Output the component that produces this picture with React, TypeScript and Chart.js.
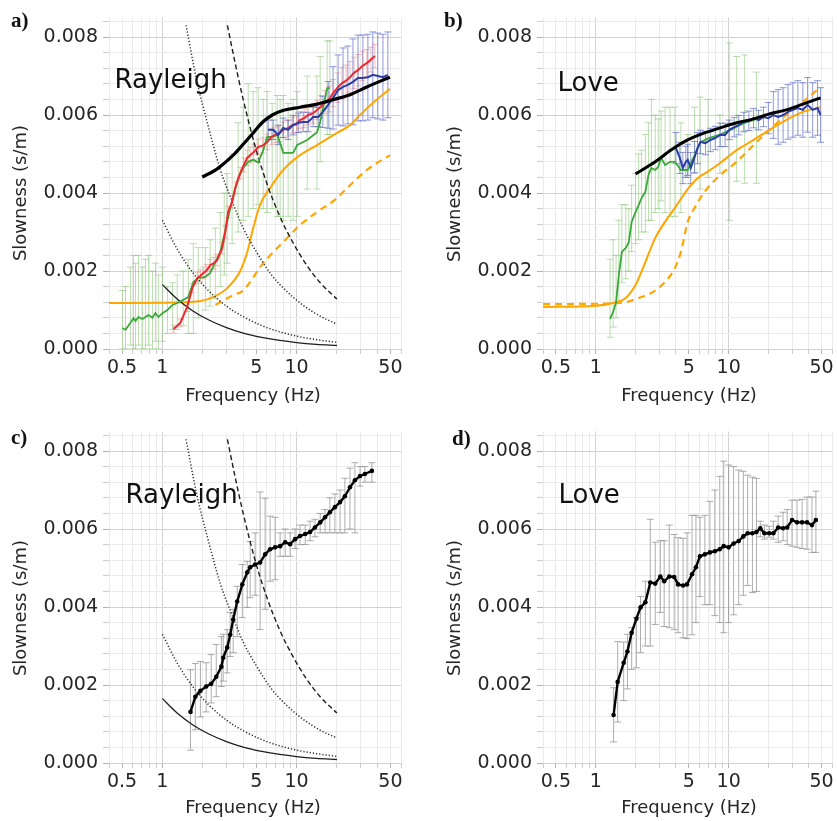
import React, { useEffect, useRef } from "react";
import { Chart, registerables } from "chart.js";
Chart.register(...registerables);

const FONT = "'DejaVu Sans', sans-serif";
const TEXT = "#262626";
const GRID_MAJOR = "#d2d2d2";
const GRID_MINOR = "#ebebeb";
const TICK_MAJOR = "#b4b4b4";
const TICK_MINOR = "#cdcdcd";

// ---- axes ----
const xGridValues = [0.4, 0.5, 0.6, 0.7, 0.8, 0.9, 1, 2, 3, 4, 5, 6, 7, 8, 9, 10, 20, 30, 40, 50, 60];
const xTickLabels = [0.5, 1, 5, 10, 50];
const xMajorValues = [1, 10];
const yGridValues = [0, 0.0004, 0.0008, 0.0012, 0.0016, 0.002, 0.0024, 0.0028, 0.0032, 0.0036, 0.004, 0.0044, 0.0048, 0.0052, 0.0056, 0.006, 0.0064, 0.0068, 0.0072, 0.0076, 0.008, 0.0084];
const yTickLabels = [0, 0.002, 0.004, 0.006, 0.008];

// ---- wavelength limit curves (panels a, c) ----
const limSolidFreq = [1, 1.3, 1.7, 2.2, 3, 4, 5.5, 7.5, 10, 14, 20];
const limSolidSlow = [0.00165, 0.00127, 0.00097, 0.00075, 0.00055, 0.00041, 0.0003, 0.00022, 0.000165, 0.00012, 0.00009];
const limDot1Freq = [1, 1.3, 1.7, 2.2, 3, 4, 5.5, 7.5, 10, 14, 20];
const limDot1Slow = [0.0033, 0.00254, 0.00194, 0.0015, 0.0011, 0.00083, 0.0006, 0.00044, 0.00033, 0.00024, 0.00017];
const limDot2Freq = [1.5, 1.8, 2.2, 2.7, 3.3, 4, 5, 6.5, 8.5, 11, 15, 20];
const limDot2Slow = [0.0083, 0.0069, 0.0057, 0.0046, 0.0038, 0.0031, 0.0025, 0.0019, 0.00147, 0.00114, 0.00084, 0.00064];
const limDashFreq = [3.05, 3.5, 4, 5, 6, 7.5, 9.5, 12, 15, 20];
const limDashSlow = [0.0083, 0.0073, 0.0064, 0.0051, 0.00425, 0.0034, 0.0027, 0.00213, 0.0017, 0.00128];

// ---- panel a (Rayleigh) ----
const aGreenFreq = [0.504, 0.531, 0.578, 0.609, 0.63, 0.663, 0.71, 0.748, 0.787, 0.843, 0.887, 0.934, 1.0, 1.09, 1.19, 1.29, 1.43, 1.56, 1.7, 1.85, 2.09, 2.27, 2.48, 2.7, 2.89, 3.04, 3.31, 3.67, 4.0, 4.36, 4.75, 5.17, 5.64, 6.04, 6.58, 7.16, 7.54, 7.94, 8.65, 9.42, 10.1, 12.0, 14.2, 15.0, 16.9, 17.7];
const aGreenSlow = [0.00054, 0.00049, 0.00067, 0.00079, 0.00072, 0.00082, 0.00077, 0.00082, 0.00087, 0.0008, 0.00092, 0.00082, 0.00092, 0.001, 0.00113, 0.00118, 0.00126, 0.00133, 0.00172, 0.00182, 0.00185, 0.00195, 0.00223, 0.00249, 0.00292, 0.00326, 0.00382, 0.00438, 0.00464, 0.0048, 0.00485, 0.00478, 0.0051, 0.00544, 0.00544, 0.00549, 0.00528, 0.00503, 0.00503, 0.00503, 0.00523, 0.00536, 0.00556, 0.00582, 0.00669, 0.00669];
const aGreenLo = [0, 0, 0.0001, 0, 0, 0.0001, 0, 0, 0.0001, 0, 0.0002, 0, 0.0002, 0.0004, 0.0005, 0.0005, 0.0006, 0.0004, 0.0004, 0.0008, 0.001, 0.0011, 0.0013, 0.0016, 0.0019, 0.0022, 0.0027, 0.003, 0.0033, 0.0034, 0.0036, 0.0037, 0.0036, 0.0035, 0.0036, 0.0034, 0.0034, 0.0033, 0.0034, 0.0033, 0.0034, 0.0041, 0.0041, 0.0048, 0.0055, 0.0055];
const aGreenHi = [0.0015, 0.0016, 0.0021, 0.0024, 0.0022, 0.0024, 0.0021, 0.0023, 0.0024, 0.002, 0.0022, 0.0019, 0.0021, 0.0016, 0.0017, 0.0019, 0.002, 0.0023, 0.0027, 0.0026, 0.0026, 0.0028, 0.0031, 0.0035, 0.004, 0.0045, 0.005, 0.0058, 0.0062, 0.0068, 0.0066, 0.0067, 0.0064, 0.0066, 0.0063, 0.0065, 0.0064, 0.0065, 0.0063, 0.0064, 0.0066, 0.007, 0.007, 0.0075, 0.0079, 0.0079];

const aRedFreq = [1.21, 1.36, 1.53, 1.67, 1.82, 1.92, 2.02, 2.14, 2.27, 2.42, 2.56, 2.79, 2.94, 3.09, 3.31, 3.49, 3.8, 4.05, 4.29, 4.51, 4.8, 5.17, 5.6, 6.04, 6.5, 6.92, 7.4, 7.94, 8.6, 9.26, 10.0, 10.6, 11.4, 12.2, 13.2, 14.2, 15.2, 16.3, 17.5, 18.7, 20.2, 21.8, 23.4, 25.0, 26.8, 28.7, 31.0, 33.4, 35.8, 38.3];
const aRedSlow = [0.00051, 0.00067, 0.00108, 0.00156, 0.00182, 0.00188, 0.00195, 0.00202, 0.00215, 0.0022, 0.00228, 0.00259, 0.003, 0.00351, 0.00377, 0.00413, 0.00451, 0.00472, 0.0049, 0.00497, 0.00505, 0.00518, 0.00522, 0.00531, 0.00544, 0.00549, 0.00552, 0.00562, 0.00566, 0.00574, 0.00576, 0.00587, 0.00592, 0.006, 0.00604, 0.00613, 0.00622, 0.00633, 0.00641, 0.00656, 0.0067, 0.00682, 0.00688, 0.00697, 0.00708, 0.00715, 0.00726, 0.00733, 0.00742, 0.00751];
const aRedErr = [0.0001, 0.0001, 0.00012, 0.00012, 0.00015, 0.00015, 0.00015, 0.00015, 0.00015, 0.00015, 0.00015, 0.00015, 0.00015, 0.00015, 0.00015, 0.00015, 0.00015, 0.00018, 0.0002, 0.0002, 0.0002, 0.0002, 0.0002, 0.0002, 0.0002, 0.0002, 0.0002, 0.0002, 0.0002, 0.0002, 0.00022, 0.00022, 0.00024, 0.00025, 0.00025, 0.00025, 0.00028, 0.0003, 0.00033, 0.00035, 0.00038, 0.0004, 0.0004, 0.0004, 0.0004, 0.0004, 0.00038, 0.00035, 0.00032, 0.0003];

const aBlueFreq = [6.14, 6.69, 7.29, 7.94, 8.65, 9.42, 10.3, 11.2, 12.2, 13.3, 14.5, 15.7, 17.2, 18.7, 20.4, 22.2, 24.1, 26.3, 28.7, 31.2, 34.0, 37.0, 40.3, 44.0, 47.9];
const aBlueSlow = [0.00562, 0.00562, 0.00549, 0.00567, 0.00562, 0.00574, 0.0058, 0.00582, 0.00582, 0.00595, 0.00595, 0.00608, 0.00626, 0.00644, 0.00664, 0.00672, 0.00677, 0.00685, 0.00695, 0.00695, 0.00697, 0.00703, 0.007, 0.00697, 0.00703];
const aBlueErr = [0.00025, 0.00025, 0.00025, 0.00025, 0.00025, 0.00025, 0.00025, 0.00025, 0.00025, 0.00025, 0.00025, 0.0004, 0.0006, 0.0008, 0.0009, 0.001, 0.001, 0.0011, 0.0011, 0.0011, 0.0011, 0.0011, 0.0011, 0.0011, 0.0011];

const aBlackFreq = [1.98, 2.56, 3.37, 4.0, 4.75, 5.6, 6.6, 8.0, 10.6, 14.2, 19, 25, 33.4, 49.6];
const aBlackSlow = [0.00441, 0.00462, 0.00497, 0.00525, 0.00554, 0.00582, 0.006, 0.00612, 0.0062, 0.00628, 0.0064, 0.00652, 0.00672, 0.00697];

const aOrangeFreq = [0.4, 1.2, 1.92, 2.39, 3.04, 3.8, 4.3, 4.75, 5.35, 6.35, 7.94, 10.6, 14.2, 20.0, 25.0, 29.7, 37.0, 49.6];
const aOrangeSlow = [0.00118, 0.00119, 0.00123, 0.00133, 0.00156, 0.002, 0.0025, 0.0031, 0.0037, 0.00413, 0.00459, 0.00497, 0.00523, 0.00554, 0.00574, 0.006, 0.00631, 0.00667];
const aOrangeDashFreq = [2.48, 3.37, 4.0, 4.51, 5.35, 6.35, 7.94, 10.6, 14.2, 20, 25, 33.4, 49.6];
const aOrangeDashSlow = [0.00113, 0.00138, 0.0015, 0.00172, 0.0021, 0.0024, 0.00274, 0.00318, 0.00351, 0.00387, 0.0042, 0.00459, 0.00497];

// ---- panel b (Love) ----
const bGreenFreq = [1.28, 1.35, 1.42, 1.49, 1.57, 1.68, 1.77, 1.86, 1.99, 2.1, 2.21, 2.36, 2.49, 2.62, 2.8, 2.95, 3.1, 3.32, 3.62, 3.94, 4.37, 4.92, 5.54, 6.1, 7.0, 8.6, 10.1, 11.5, 13.2, 16.2];
const bGreenSlow = [0.00077, 0.00095, 0.0012, 0.0019, 0.00249, 0.00259, 0.00274, 0.00326, 0.00351, 0.00369, 0.00387, 0.00403, 0.00446, 0.00464, 0.00459, 0.00467, 0.0049, 0.00472, 0.0048, 0.0048, 0.00459, 0.00459, 0.00497, 0.0053, 0.0054, 0.0055, 0.0056, 0.0057, 0.0058, 0.0059];
const bGreenLo = [0.0003, 0.00056, 0.0008, 0.0012, 0.0017, 0.0018, 0.002, 0.0025, 0.0027, 0.0028, 0.003, 0.003, 0.0033, 0.0033, 0.0035, 0.0036, 0.0038, 0.0035, 0.0034, 0.0034, 0.0035, 0.0044, 0.0045, 0.0041, 0.0044, 0.0045, 0.0033, 0.0043, 0.00425, 0.00425];
const bGreenHi = [0.0023, 0.0028, 0.0024, 0.0033, 0.0037, 0.0037, 0.0036, 0.0042, 0.0045, 0.005, 0.0051, 0.0055, 0.0058, 0.0064, 0.006, 0.0059, 0.0061, 0.0062, 0.0062, 0.0062, 0.0058, 0.0055, 0.0062, 0.00646, 0.0064, 0.006, 0.00785, 0.0075, 0.00754, 0.0071];

const bBlueFreq = [4.01, 4.29, 4.52, 4.76, 4.92, 5.18, 5.54, 5.83, 6.14, 6.69, 7.28, 7.93, 8.63, 9.4, 10.1, 11.0, 11.9, 13.0, 14.2, 15.4, 16.8, 18.3, 19.9, 21.7, 23.6, 25.7, 28.0, 30.5, 33.2, 36.2, 39.3, 42.9, 46.7, 49.2];
const bBlueSlow = [0.00515, 0.0049, 0.00464, 0.0048, 0.00485, 0.00464, 0.00492, 0.00515, 0.00531, 0.00528, 0.00536, 0.00541, 0.00549, 0.00549, 0.00562, 0.00569, 0.00574, 0.00582, 0.00585, 0.00592, 0.00587, 0.00595, 0.00592, 0.006, 0.00595, 0.006, 0.00608, 0.00613, 0.00618, 0.00613, 0.00626, 0.00613, 0.00618, 0.006];
const bBlueErr = [0.0004, 0.0004, 0.0004, 0.0004, 0.0004, 0.0004, 0.0004, 0.0004, 0.0003, 0.0003, 0.0003, 0.0003, 0.0003, 0.0003, 0.00025, 0.00025, 0.00025, 0.00025, 0.00025, 0.00025, 0.00025, 0.00025, 0.0004, 0.0006, 0.0007, 0.0007, 0.0007, 0.0007, 0.0007, 0.0007, 0.0007, 0.0007, 0.0007, 0.0007];

const bBlackFreq = [1.99, 2.8, 3.68, 4.92, 6.58, 8.63, 11.5, 15.4, 20.3, 27.1, 36.2, 49.2];
const bBlackSlow = [0.00449, 0.0048, 0.0051, 0.00536, 0.00554, 0.00567, 0.0058, 0.0059, 0.00603, 0.00613, 0.00628, 0.00644];

const bOrangeFreq = [0.4, 1.0, 1.42, 1.68, 1.99, 2.36, 2.8, 3.32, 3.94, 4.92, 5.83, 6.92, 8.63, 11.5, 15.4, 20.3, 27.1, 36.2, 49.2];
const bOrangeSlow = [0.00108, 0.00111, 0.0012, 0.00131, 0.00164, 0.00223, 0.00285, 0.00326, 0.00362, 0.0041, 0.00438, 0.00454, 0.00477, 0.0051, 0.00536, 0.00562, 0.00587, 0.00608, 0.0062];
const bOrangeDashFreq = [0.4, 1.0, 1.68, 2.1, 2.62, 3.32, 3.94, 4.37, 4.92, 5.54, 6.58, 8.63, 11.5, 15.4, 20.3, 27.1, 36.2, 49.2];
const bOrangeDashSlow = [0.00115, 0.00116, 0.0012, 0.00131, 0.00144, 0.00172, 0.00208, 0.00249, 0.00326, 0.00362, 0.00403, 0.00446, 0.0048, 0.00523, 0.00562, 0.006, 0.00633, 0.00672];

// ---- panel c (Rayleigh, combined) ----
const cFreq = [1.62, 1.76, 1.92, 2.12, 2.31, 2.52, 2.75, 2.84, 3.04, 3.2, 3.37, 3.61, 3.94, 4.29, 4.51, 4.91, 5.35, 5.83, 6.35, 6.92, 7.54, 8.22, 8.95, 9.75, 10.6, 11.6, 12.6, 13.7, 15.0, 16.3, 17.7, 19.3, 21.1, 22.9, 25.0, 27.2, 29.7, 32.3, 36.4];
const cSlow = [0.00131, 0.0017, 0.00185, 0.00196, 0.00203, 0.00221, 0.00247, 0.0027, 0.00296, 0.00329, 0.00368, 0.00414, 0.00458, 0.00489, 0.00502, 0.00509, 0.00514, 0.00535, 0.00548, 0.00553, 0.00556, 0.00566, 0.00561, 0.00574, 0.00582, 0.00587, 0.00592, 0.00604, 0.00617, 0.0063, 0.00643, 0.00656, 0.00669, 0.00684, 0.00707, 0.00725, 0.00736, 0.00741, 0.00749];
const cLo = [0.00033, 0.00085, 0.00118, 0.00131, 0.00154, 0.0017, 0.00196, 0.0021, 0.00231, 0.00273, 0.00283, 0.00324, 0.00373, 0.00399, 0.00424, 0.0043, 0.00342, 0.00394, 0.00466, 0.0047, 0.0053, 0.0053, 0.0053, 0.0055, 0.0056, 0.0056, 0.0057, 0.0058, 0.0059, 0.0059, 0.0059, 0.0059, 0.0059, 0.0059, 0.006, 0.0059, 0.0071, 0.0072, 0.0072];
const cHi = [0.00239, 0.00255, 0.0026, 0.00257, 0.00278, 0.00304, 0.00324, 0.0033, 0.00342, 0.00386, 0.00394, 0.00453, 0.00509, 0.00517, 0.00568, 0.0059, 0.00695, 0.00679, 0.00633, 0.0063, 0.0059, 0.006, 0.0059, 0.006, 0.0061, 0.0061, 0.0062, 0.00625, 0.0064, 0.0065, 0.0068, 0.0069, 0.007, 0.0073, 0.00756, 0.0077, 0.0076, 0.0076, 0.0077];

// ---- panel d (Love, combined) ----
const dFreq = [1.36, 1.46, 1.62, 1.73, 1.86, 2.02, 2.17, 2.36, 2.57, 2.8, 3.06, 3.27, 3.57, 3.89, 4.16, 4.54, 4.86, 5.3, 5.67, 6.08, 6.62, 7.22, 7.87, 8.57, 9.18, 10.0, 10.9, 11.9, 12.9, 13.9, 15.1, 16.2, 17.3, 18.6, 20.2, 21.7, 23.6, 25.7, 27.6, 30.0, 32.7, 35.7, 38.9, 42.4, 45.4];
const dSlow = [0.00123, 0.00208, 0.00257, 0.00286, 0.00334, 0.0037, 0.00399, 0.00412, 0.00463, 0.0046, 0.00478, 0.00466, 0.00478, 0.00477, 0.00458, 0.00455, 0.00458, 0.00484, 0.00502, 0.0053, 0.00535, 0.0054, 0.00543, 0.00548, 0.00556, 0.00553, 0.00563, 0.00569, 0.00581, 0.00589, 0.00589, 0.00592, 0.00602, 0.00589, 0.00589, 0.00589, 0.00604, 0.00602, 0.00604, 0.00623, 0.00617, 0.00617, 0.00617, 0.0061, 0.00623];
const dLo = [0.00054, 0.00105, 0.0016, 0.0019, 0.0024, 0.00244, 0.00283, 0.003, 0.003, 0.00355, 0.00386, 0.0035, 0.00347, 0.00342, 0.00334, 0.00321, 0.00319, 0.00329, 0.0036, 0.00427, 0.00406, 0.00406, 0.00378, 0.0036, 0.00334, 0.0036, 0.0038, 0.00406, 0.0043, 0.00455, 0.00437, 0.0044, 0.0058, 0.00574, 0.00579, 0.00574, 0.00566, 0.0057, 0.0056, 0.00556, 0.00553, 0.0055, 0.00548, 0.0054, 0.0054];
const dHi = [0.00193, 0.00311, 0.0031, 0.0033, 0.00347, 0.00373, 0.00427, 0.00466, 0.00625, 0.00566, 0.0057, 0.0057, 0.0061, 0.00586, 0.00578, 0.00576, 0.0059, 0.00635, 0.00635, 0.0063, 0.00635, 0.00671, 0.007, 0.00735, 0.00774, 0.00764, 0.0076, 0.00751, 0.00748, 0.00738, 0.00733, 0.0073, 0.0062, 0.0061, 0.00607, 0.0062, 0.00633, 0.00643, 0.0065, 0.00674, 0.00674, 0.00676, 0.00682, 0.00682, 0.00697];

// ---- helpers ----
const pts = (xs: number[], ys: number[]) => xs.map((x, i) => ({ x, y: ys[i] }));
const barPts = (xs: number[], lo: number[], hi: number[]) =>
  xs.flatMap((x, i) => [{ x, y: lo[i] }, { x, y: hi[i] }, { x, y: null as any }]);
const symBarPts = (xs: number[], ys: number[], err: number[]) =>
  barPts(xs, ys.map((v, i) => v - err[i]), ys.map((v, i) => v + err[i]));

function lineDs(xs: number[], ys: number[], color: string, width: number, extra: any = {}) {
  return {
    data: pts(xs, ys), borderColor: color, backgroundColor: color, borderWidth: width,
    pointRadius: 0, fill: false, tension: 0, ...extra,
  };
}
function barDs(data: any[], color: string, cap = 3.5) {
  return {
    data, borderColor: color, backgroundColor: color, borderWidth: 1,
    pointStyle: "line", pointRadius: cap, pointBorderColor: color, pointBorderWidth: 1,
    spanGaps: false, fill: false, tension: 0,
  };
}
const smooth = { cubicInterpolationMode: "monotone" };

function limitCurves() {
  return [
    lineDs(limSolidFreq, limSolidSlow, "#1e1e1e", 1.3, smooth),
    lineDs(limDot1Freq, limDot1Slow, "#2a2a2a", 1.5, { ...smooth, borderDash: [1.2, 2] }),
    lineDs(limDot2Freq, limDot2Slow, "#2a2a2a", 1.5, { ...smooth, borderDash: [1.2, 2] }),
    lineDs(limDashFreq, limDashSlow, "#1e1e1e", 1.4, { ...smooth, borderDash: [5, 3] }),
  ];
}

const ORANGE = "#ffa500";

function panelA() {
  return [
    lineDs(aBlackFreq, aBlackSlow, "#000000", 3.2, smooth),
    lineDs(aBlueFreq, aBlueSlow, "#2b3ca8", 2),
    lineDs(aRedFreq, aRedSlow, "#f2262b", 2),
    lineDs(aGreenFreq, aGreenSlow, "#3aa83a", 1.8),
    ...limitCurves(),
    lineDs(aOrangeFreq, aOrangeSlow, ORANGE, 2, smooth),
    lineDs(aOrangeDashFreq, aOrangeDashSlow, ORANGE, 2.2, { ...smooth, borderDash: [7, 5] }),
    barDs(symBarPts(aBlueFreq, aBlueSlow, aBlueErr), "rgba(70,85,190,0.6)"),
    barDs(symBarPts(aRedFreq, aRedSlow, aRedErr), "rgba(235,110,110,0.45)", 3),
    barDs(barPts(aGreenFreq, aGreenLo, aGreenHi), "rgba(120,190,95,0.5)"),
  ];
}
function panelB() {
  return [
    lineDs(bBlackFreq, bBlackSlow, "#000000", 3, smooth),
    lineDs(bBlueFreq, bBlueSlow, "#2b3ca8", 2),
    lineDs(bGreenFreq, bGreenSlow, "#3aa83a", 1.8),
    lineDs(bOrangeFreq, bOrangeSlow, ORANGE, 2, smooth),
    lineDs(bOrangeDashFreq, bOrangeDashSlow, ORANGE, 2.2, { ...smooth, borderDash: [7, 5] }),
    barDs(symBarPts(bBlueFreq, bBlueSlow, bBlueErr), "rgba(70,85,190,0.6)"),
    barDs(barPts(bGreenFreq, bGreenLo, bGreenHi), "rgba(120,190,95,0.5)"),
  ];
}
const markerLine = { pointRadius: 2.3, pointBackgroundColor: "#000", pointBorderWidth: 0, pointStyle: "circle" };
function panelC() {
  return [
    lineDs(cFreq, cSlow, "#000000", 2.4, markerLine),
    ...limitCurves(),
    barDs(barPts(cFreq, cLo, cHi), "rgba(120,120,120,0.6)"),
  ];
}
function panelD() {
  return [
    lineDs(dFreq, dSlow, "#000000", 2.4, markerLine),
    barDs(barPts(dFreq, dLo, dHi), "rgba(120,120,120,0.6)"),
  ];
}

const PLOT_BOTTOM = 349;
const PLOT_TOP = 17.5;
const Y_AXIS_W = 109;

function makeOptions(padRight: number, height: number): any {
  return {
    responsive: false,
    maintainAspectRatio: false,
    animation: false,
    events: [],
    layout: { padding: { left: 0, top: PLOT_TOP, right: padRight, bottom: 0 } },
    plugins: { legend: { display: false }, tooltip: { enabled: false }, title: { display: false } },
    scales: {
      x: {
        type: "logarithmic",
        min: 0.4,
        max: 60,
        afterBuildTicks: (s: any) => { s.ticks = xGridValues.map((v) => ({ value: v })); },
        afterFit: (s: any) => { s.height = height - PLOT_BOTTOM; },
        ticks: {
          autoSkip: false, maxRotation: 0, minRotation: 0, padding: 3, color: TEXT,
          font: { family: FONT, size: 19 },
          callback: (v: any) => (xTickLabels.includes(v) ? String(v) : ""),
        },
        grid: {
          color: (c: any) => (c.tick && xMajorValues.includes(c.tick.value) ? GRID_MAJOR : GRID_MINOR),
          tickColor: (c: any) => (c.tick && xTickLabels.includes(c.tick.value) ? TICK_MAJOR : TICK_MINOR),
          tickLength: 5,
          lineWidth: 1,
        },
        border: { display: false },
      },
      y: {
        type: "linear",
        min: 0,
        max: 0.0085,
        afterBuildTicks: (s: any) => { s.ticks = yGridValues.map((v) => ({ value: v })); },
        afterFit: (s: any) => { s.width = Y_AXIS_W; },
        ticks: {
          autoSkip: false, padding: 5, color: TEXT,
          font: { family: FONT, size: 19 },
          callback: (v: any) => (yTickLabels.includes(v) ? Number(v).toFixed(3) : ""),
        },
        grid: {
          color: (c: any) => (c.tick && yTickLabels.includes(c.tick.value) ? GRID_MAJOR : GRID_MINOR),
          tickColor: (c: any) => (c.tick && yTickLabels.includes(c.tick.value) ? TICK_MAJOR : TICK_MINOR),
          tickLength: 6,
          lineWidth: 1,
        },
        border: { display: false },
      },
    },
  };
}

function ChartCanvas(props: { left: number; top: number; width: number; height: number; padRight: number; build: () => any[] }) {
  const ref = useRef<HTMLCanvasElement | null>(null);
  useEffect(() => {
    const chart = new Chart(ref.current as HTMLCanvasElement, {
      type: "line",
      data: { datasets: props.build() as any },
      options: makeOptions(props.padRight, props.height),
    });
    return () => chart.destroy();
  }, []);
  return (
    <canvas
      ref={ref}
      width={props.width}
      height={props.height}
      style={{ position: "absolute", left: props.left, top: props.top, width: props.width, height: props.height }}
    />
  );
}

const base: React.CSSProperties = { position: "absolute", whiteSpace: "nowrap", lineHeight: 1, color: TEXT, fontFamily: FONT };

function YTitle({ cx, cy }: { cx: number; cy: number }) {
  return (
    <div style={{ ...base, left: cx, top: cy, fontSize: 18, transform: "translate(-50%,-50%) rotate(-90deg)" }}>
      Slowness (s/m)
    </div>
  );
}
function XTitle({ cx, top }: { cx: number; top: number }) {
  return (
    <div style={{ ...base, left: cx, top, fontSize: 18, transform: "translateX(-50%)" }}>Frequency (Hz)</div>
  );
}
function Label({ left, top, text }: { left: number; top: number; text: string }) {
  return (
    <div style={{ ...base, left, top, fontSize: 21, fontWeight: "bold", color: "#111", fontFamily: "'Liberation Serif', 'Times New Roman', serif" }}>
      {text}
    </div>
  );
}
function Wave({ left, top, text }: { left: number; top: number; text: string }) {
  return <div style={{ ...base, left, top, fontSize: 26, color: "#111" }}>{text}</div>;
}

export default function App() {
  return (
    <div style={{ position: "absolute", left: 0, top: 0, width: 837, height: 821, background: "#fff", overflow: "hidden" }}>
      <ChartCanvas left={0} top={0} width={418} height={414} padRight={17} build={panelA} />
      <ChartCanvas left={434} top={0} width={403} height={414} padRight={0} build={panelB} />
      <ChartCanvas left={0} top={414} width={418} height={407} padRight={17} build={panelC} />
      <ChartCanvas left={434} top={414} width={403} height={407} padRight={0} build={panelD} />

      <YTitle cx={20} cy={193} />
      <YTitle cx={454} cy={194} />
      <YTitle cx={20} cy={608} />
      <YTitle cx={454} cy={608} />

      <XTitle cx={253} top={386} />
      <XTitle cx={689} top={386} />
      <XTitle cx={253} top={798} />
      <XTitle cx={689} top={798} />

      <Label left={11} top={10} text="a)" />
      <Label left={444} top={10} text="b)" />
      <Label left={11} top={427} text="c)" />
      <Label left={452} top={428} text="d)" />

      <Wave left={114.5} top={66} text="Rayleigh" />
      <Wave left={557.5} top={69} text="Love" />
      <Wave left={125.5} top={481} text="Rayleigh" />
      <Wave left={558.5} top={481} text="Love" />
    </div>
  );
}
